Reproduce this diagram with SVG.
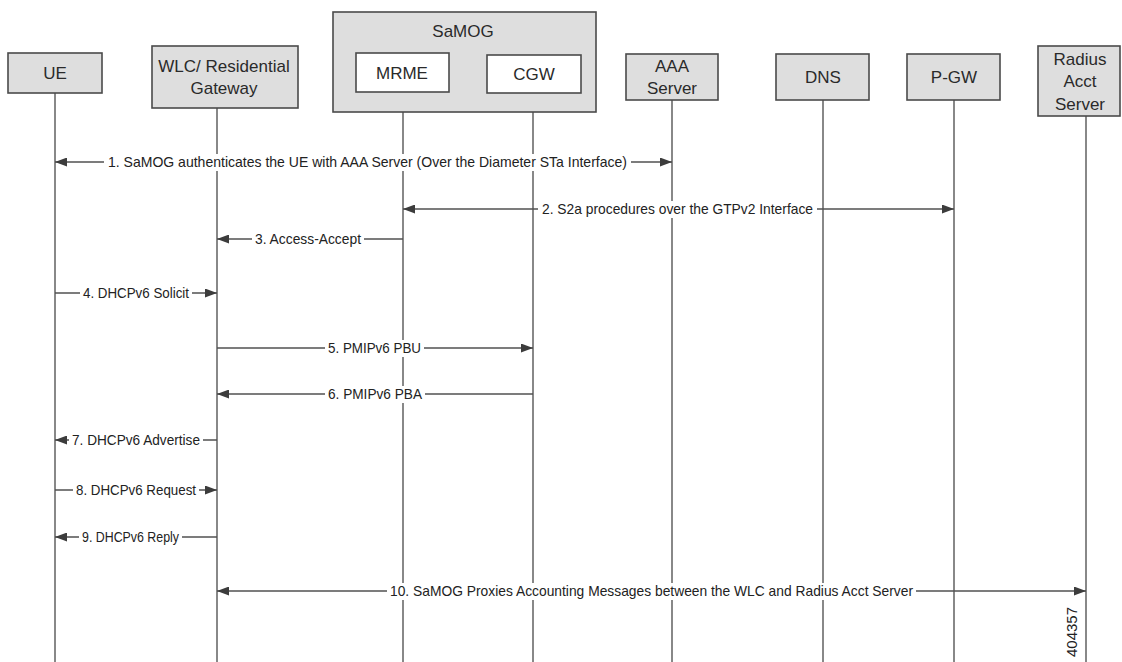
<svg xmlns="http://www.w3.org/2000/svg" width="1122" height="662" viewBox="0 0 1122 662">
<defs>
<marker id="ah" viewBox="0 0 12 9" refX="12" refY="4.5" markerWidth="12" markerHeight="9" markerUnits="userSpaceOnUse" orient="auto-start-reverse">
<path d="M0,0 L12,4.5 L0,9 z" fill="#3c3c3c"/>
</marker>
<style>
.box{fill:#dedede;stroke:#4a4a4a;stroke-width:1.6}
.wbox{fill:#ffffff;stroke:#4a4a4a;stroke-width:1.6}
.lbl{font-family:"Liberation Sans",Arial,sans-serif;font-size:17px;fill:#2a2a2a;text-anchor:middle}
.life{stroke:#606060;stroke-width:1.5;fill:none}
.msg{stroke:#505050;stroke-width:1.5;fill:none}
.mt{font-family:"Liberation Sans",Arial,sans-serif;font-size:15px;fill:#222}
.bg{fill:#ffffff}
</style>
</defs>
<rect width="1122" height="662" fill="#ffffff"/>

<g id="lifelines">
<line class="life" x1="55" y1="93" x2="55" y2="662"/>
<line class="life" x1="217" y1="108" x2="217" y2="662"/>
<line class="life" x1="403" y1="92" x2="403" y2="662"/>
<line class="life" x1="533" y1="93" x2="533" y2="662"/>
<line class="life" x1="672" y1="100" x2="672" y2="662"/>
<line class="life" x1="823" y1="100" x2="823" y2="662"/>
<line class="life" x1="954" y1="100" x2="954" y2="662"/>
<line class="life" x1="1086" y1="116" x2="1086" y2="662"/>
</g>

<g id="ue">
<rect class="box" x="8" y="53" width="94" height="40"/>
<text class="lbl" x="55" y="79">UE</text>
</g>
<g id="wlc">
<rect class="box" x="152" y="46" width="146" height="62"/>
<text class="lbl" x="224" y="72">WLC/ Residential</text>
<text class="lbl" x="224" y="94">Gateway</text>
</g>
<g id="samog">
<rect class="box" x="333" y="12" width="263" height="100"/>
<text class="lbl" x="463" y="37">SaMOG</text>
</g>
<g id="mrme">
<rect class="wbox" x="356" y="53" width="93" height="39"/>
<text class="lbl" x="402" y="79">MRME</text>
</g>
<g id="cgw">
<rect class="wbox" x="487" y="55" width="94" height="38"/>
<text class="lbl" x="534" y="80">CGW</text>
</g>
<g id="aaa">
<rect class="box" x="626" y="54" width="92" height="46"/>
<text class="lbl" x="672" y="72">AAA</text>
<text class="lbl" x="672" y="94">Server</text>
</g>
<g id="dns">
<rect class="box" x="776" y="54" width="93" height="46"/>
<text class="lbl" x="823" y="83">DNS</text>
</g>
<g id="pgw">
<rect class="box" x="907" y="54" width="93" height="46"/>
<text class="lbl" x="954" y="83">P-GW</text>
</g>
<g id="radius">
<rect class="box" x="1038" y="46" width="82" height="70"/>
<text class="lbl" x="1080" y="65">Radius</text>
<text class="lbl" x="1080" y="87">Acct</text>
<text class="lbl" x="1080" y="110">Server</text>
</g>

<g id="connectors">
<line class="msg" x1="55" y1="162" x2="672" y2="162" marker-start="url(#ah)" marker-end="url(#ah)"/>
<rect class="bg" x="104" y="154" width="527" height="17"/>
<text class="mt" x="108" y="167" textLength="519" lengthAdjust="spacingAndGlyphs">1. SaMOG authenticates the UE with AAA Server (Over the Diameter STa Interface)</text>

<line class="msg" x1="403" y1="209" x2="954" y2="209" marker-start="url(#ah)" marker-end="url(#ah)"/>
<rect class="bg" x="538" y="201" width="279" height="17"/>
<text class="mt" x="542" y="214" textLength="271" lengthAdjust="spacingAndGlyphs">2. S2a procedures over the GTPv2 Interface</text>

<line class="msg" x1="403" y1="239" x2="217" y2="239" marker-end="url(#ah)"/>
<rect class="bg" x="252" y="231" width="112" height="17"/>
<text class="mt" x="255" y="244" textLength="106" lengthAdjust="spacingAndGlyphs">3. Access-Accept</text>

<line class="msg" x1="55" y1="293" x2="217" y2="293" marker-end="url(#ah)"/>
<rect class="bg" x="80" y="285" width="112" height="17"/>
<text class="mt" x="83" y="298" textLength="106" lengthAdjust="spacingAndGlyphs">4. DHCPv6 Solicit</text>

<line class="msg" x1="217" y1="348" x2="533" y2="348" marker-end="url(#ah)"/>
<rect class="bg" x="325" y="340" width="99" height="17"/>
<text class="mt" x="328" y="353" textLength="93" lengthAdjust="spacingAndGlyphs">5. PMIPv6 PBU</text>

<line class="msg" x1="533" y1="394" x2="217" y2="394" marker-end="url(#ah)"/>
<rect class="bg" x="325" y="386" width="100" height="17"/>
<text class="mt" x="328" y="399" textLength="94" lengthAdjust="spacingAndGlyphs">6. PMIPv6 PBA</text>

<line class="msg" x1="217" y1="440" x2="55" y2="440" marker-end="url(#ah)"/>
<rect class="bg" x="69" y="432" width="134" height="17"/>
<text class="mt" x="72" y="445" textLength="128" lengthAdjust="spacingAndGlyphs">7. DHCPv6 Advertise</text>

<line class="msg" x1="55" y1="490" x2="217" y2="490" marker-end="url(#ah)"/>
<rect class="bg" x="73" y="482" width="126" height="17"/>
<text class="mt" x="76" y="495" textLength="120" lengthAdjust="spacingAndGlyphs">8. DHCPv6 Request</text>

<line class="msg" x1="217" y1="537" x2="55" y2="537" marker-end="url(#ah)"/>
<rect class="bg" x="79" y="529" width="103" height="17"/>
<text class="mt" x="82" y="542" textLength="97" lengthAdjust="spacingAndGlyphs">9. DHCPv6 Reply</text>

<line class="msg" x1="217" y1="591" x2="1086" y2="591" marker-start="url(#ah)" marker-end="url(#ah)"/>
<rect class="bg" x="387" y="583" width="529" height="17"/>
<text class="mt" x="390" y="596" textLength="523" lengthAdjust="spacingAndGlyphs">10. SaMOG Proxies Accounting Messages between the WLC and Radius Acct Server</text>
</g>

<text class="mt" x="0" y="0" font-size="13" text-anchor="middle" transform="translate(1077,632) rotate(-90)">404357</text>
</svg>
